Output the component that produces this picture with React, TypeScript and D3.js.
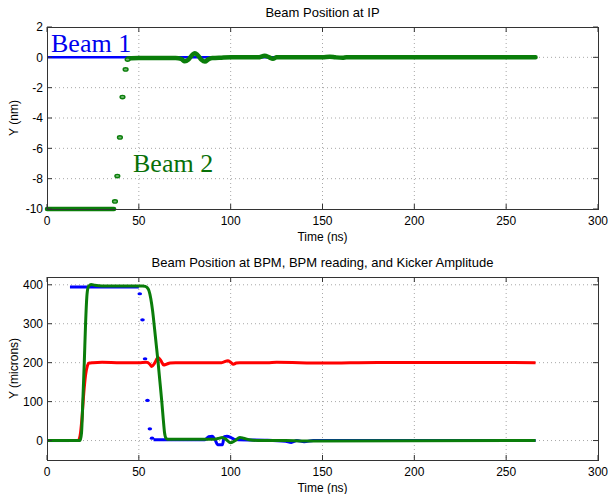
import React from "react";
import * as d3 from "d3";

// ---------- Top chart: Beam Position at IP ----------
const ipXTicks = [0, 50, 100, 150, 200, 250, 300];
const ipYTicks = [-10, -8, -6, -4, -2, 0, 2];

const beam1T = [0, 266];
const beam1V = [0, 0];

const beam2PreT = [0, 36.5];
const beam2PreV = [-10, -10];

const beam2SparseT = [37, 38.3, 39.7, 41.1, 42.8, 43.9];
const beam2SparseV = [-9.5, -7.83, -5.28, -2.62, -0.8, -0.15];

const beam2PostT = [44, 50, 60, 70, 73, 75, 77, 79, 80.5, 82, 84, 86, 88, 90, 95, 100, 110, 115, 118.5, 121, 123, 125, 150, 154, 157, 161, 163, 266];
const beam2PostV = [-0.08, -0.05, -0.05, -0.05, -0.1, -0.26, -0.15, 0.15, 0.27, 0.15, -0.15, -0.28, -0.12, -0.05, -0.02, 0, 0, 0, 0.1, 0, -0.1, 0, 0, 0.04, 0, -0.03, 0, 0];

// ---------- Bottom chart: BPM ----------
const bpmXTicks = [0, 50, 100, 150, 200, 250, 300];
const bpmYTicks = [0, 100, 200, 300, 400];

const kickerT = [0, 17, 18, 19, 20, 21, 22, 23, 25, 30, 40, 50, 54, 56, 57, 58.5, 60.5, 62, 63.5, 65, 67, 70, 95, 98.5, 100, 101.5, 103, 105, 120, 125, 150, 180, 266];
const kickerV = [0, 0, 12, 55, 120, 168, 192, 199, 200, 201, 200, 200, 201, 196, 190, 198, 213, 205, 194, 196, 199, 200, 200, 205, 201, 196, 199, 200, 200, 201, 199, 200.5, 200];

const beamBpmT = [0, 18, 18.8, 19.5, 20.3, 21, 21.7, 22.3, 23, 24, 26, 30, 45, 52, 53.5, 54.5, 55.5, 56.5, 57.5, 58.5, 59.5, 60.5, 61.5, 62.5, 63.3, 64, 64.8, 66, 75, 85, 90, 93, 95.5, 97.5, 100, 102.5, 105, 107, 110, 115, 130, 140, 266];
const beamBpmV = [0, 0, 20, 100, 200, 300, 370, 392, 398, 401, 399, 397, 397, 397, 396, 393, 385, 365, 333, 290, 245, 200, 150, 100, 55, 20, 6, 3, 3, 3, 3, 5, 8, 3, -6, 0, 8, 6, 2, 0, 0, -1, 0];

const readingPreT = [0, 12];
const readingPreV = [0, 0];
const readingFlatT = [12.5, 50];
const readingFlatV = [394, 394];
const readingSparseT = [50.5, 52, 53.4, 54.7, 56, 57.2];
const readingSparseV = [377, 310, 210, 103, 30, 6];
const readingPostT = [58, 70, 86, 88, 90, 91.5, 93, 95.5, 96.5, 98, 100, 102, 104, 120, 130, 133, 136, 140, 145, 266];
const readingPostV = [2, 2, 2, 10, 11, 2, -11, -11, 10, 11, 8, 3, 2, 1, -2, -5, 0, -3, 0, 0];

const W = 608;
const H = 494;
const font = "Liberation Sans, Arial, Helvetica, sans-serif";

type AxesProps = {
  top: number;
  bottom: number;
  left: number;
  right: number;
  x: d3.ScaleLinear<number, number>;
  y: d3.ScaleLinear<number, number>;
  xTicks: number[];
  yTicks: number[];
  title: string;
  xLabel: string;
  yLabel: string;
};

function Axes({ top, bottom, left, right, x, y, xTicks, yTicks, title, xLabel, yLabel }: AxesProps) {
  const tl = 5;
  return (
    <g>
      <rect x={left} y={top} width={right - left} height={bottom - top} fill="#fff" />
      {xTicks.filter((t) => x(t) > left + 1 && x(t) < right - 1).map((t) => (
        <line key={"gx" + t} x1={x(t)} x2={x(t)} y1={top} y2={bottom} stroke="#a8a8a8" strokeDasharray="1,3" />
      ))}
      {yTicks.filter((t) => y(t) > top + 1 && y(t) < bottom - 1).map((t) => (
        <line key={"gy" + t} x1={left} x2={right} y1={y(t)} y2={y(t)} stroke="#a8a8a8" strokeDasharray="1,3" />
      ))}
    </g>
  );
}

function Frame({ top, bottom, left, right, x, y, xTicks, yTicks, title, xLabel, yLabel }: AxesProps) {
  const tl = 5;
  const midY = (top + bottom) / 2;
  const midX = (left + right) / 2;
  return (
    <g fontFamily={font} fill="#000">
      <rect x={left + 0.5} y={top + 0.5} width={right - left} height={bottom - top} fill="none" stroke="#333" strokeWidth={1} />
      {xTicks.map((t) => (
        <g key={"xt" + t}>
          <line x1={x(t)} x2={x(t)} y1={bottom} y2={bottom - tl} stroke="#333" />
          <line x1={x(t)} x2={x(t)} y1={top} y2={top + tl} stroke="#333" />
          <text x={x(t)} y={bottom + 15.5} textAnchor="middle" fontSize={12}>{t}</text>
        </g>
      ))}
      {yTicks.map((t) => (
        <g key={"yt" + t}>
          <line x1={left} x2={left + tl} y1={y(t)} y2={y(t)} stroke="#333" />
          <line x1={right} x2={right - tl} y1={y(t)} y2={y(t)} stroke="#333" />
          <text x={left - 4} y={y(t) + 4.3} textAnchor="end" fontSize={12}>{t}</text>
        </g>
      ))}
      <text x={midX} y={top - 10} textAnchor="middle" fontSize={13}>{title}</text>
      <text x={midX} y={bottom + 31.5} textAnchor="middle" fontSize={12}>{xLabel}</text>
      <text transform={`translate(${18},${midY}) rotate(-90)`} textAnchor="middle" fontSize={12}>{yLabel}</text>
    </g>
  );
}

function zip(t: number[], v: number[]): [number, number][] {
  return t.map((tt, i) => [tt, v[i]]);
}

export default function App() {
  const left = 47;
  const right = 598;

  const x1 = d3.scaleLinear().domain([0, 300]).range([left, right]);
  const y1 = d3.scaleLinear().domain([-10, 2]).range([209, 27]);
  const x2 = d3.scaleLinear().domain([0, 300]).range([left, right]);
  const y2 = d3.scaleLinear().domain([-50, 420]).range([460, 277]);

  const l1 = d3.line<[number, number]>().x((d) => x1(d[0])).y((d) => y1(d[1])).curve(d3.curveMonotoneX);
  const l2 = d3.line<[number, number]>().x((d) => x2(d[0])).y((d) => y2(d[1])).curve(d3.curveMonotoneX);

  const green = "#0a7d0a";
  const blue = "#0000ff";
  const red = "#ff0000";

  const topProps = { top: 27, bottom: 209, left, right, x: x1, y: y1, xTicks: ipXTicks, yTicks: ipYTicks, title: "Beam Position at IP", xLabel: "Time (ns)", yLabel: "Y (nm)" };
  const botProps = { top: 277, bottom: 460, left, right, x: x2, y: y2, xTicks: bpmXTicks, yTicks: bpmYTicks, title: "Beam Position at BPM, BPM reading, and Kicker Amplitude", xLabel: "Time (ns)", yLabel: "Y (microns)" };

  return (
    <svg width={W} height={H} style={{ position: "absolute", left: 0, top: 0, background: "#fff" }}>
      <rect width={W} height={H} fill="#fff" />
      {/* Top */}
      <Axes {...topProps} />
      <path d={l1(zip(beam1T, beam1V)) || ""} fill="none" stroke={blue} strokeWidth={2.5} />
      <path d={l1(zip(beam2PreT, beam2PreV)) || ""} fill="none" stroke={green} strokeWidth={4.5} strokeLinecap="round" />
      <path d={l1(zip(beam2PostT, beam2PostV)) || ""} fill="none" stroke={green} strokeWidth={4.5} strokeLinecap="round" />
      {zip(beam2SparseT, beam2SparseV).map((d, i) => (
        <ellipse key={"b2" + i} cx={x1(d[0])} cy={y1(d[1])} rx={2.4} ry={1.7} fill="#6fb86f" stroke={green} strokeWidth={1.4} />
      ))}
      <text x={51} y={52} fontFamily="Liberation Serif, Times New Roman, serif" fontSize={26} fill="#0000ee">Beam 1</text>
      <text x={133} y={172} fontFamily="Liberation Serif, Times New Roman, serif" fontSize={26} fill="#087008">Beam 2</text>
      <Frame {...topProps} />

      {/* Bottom */}
      <Axes {...botProps} />
      <path d={l2(zip(readingPreT, readingPreV)) || ""} fill="none" stroke={blue} strokeWidth={3} />
      <path d={l2(zip(readingFlatT, readingFlatV)) || ""} fill="none" stroke={blue} strokeWidth={3} />
      <path d={l2(zip(readingPostT, readingPostV)) || ""} fill="none" stroke={blue} strokeWidth={3} />
      {zip(readingSparseT, readingSparseV).map((d, i) => (
        <ellipse key={"rd" + i} cx={x2(d[0])} cy={y2(d[1])} rx={2.3} ry={1.6} fill={blue} />
      ))}
      <path d={l2(zip(kickerT, kickerV)) || ""} fill="none" stroke={red} strokeWidth={3} />
      <path d={l2(zip(beamBpmT, beamBpmV)) || ""} fill="none" stroke={green} strokeWidth={3} />
      <Frame {...botProps} />
    </svg>
  );
}
